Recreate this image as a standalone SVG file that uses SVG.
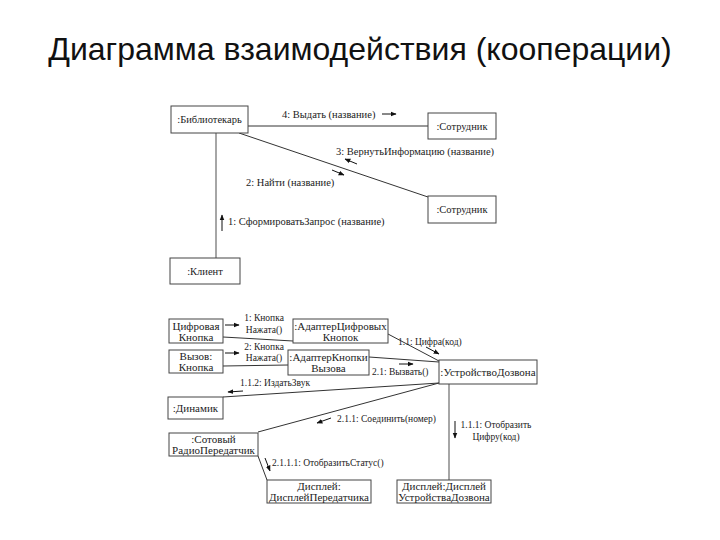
<svg xmlns="http://www.w3.org/2000/svg" width="720" height="540" viewBox="0 0 720 540">
<style>
.title{font-family:"Liberation Sans",Arial,sans-serif;font-size:32px;fill:#111;text-anchor:middle}
.box{fill:#fff;stroke:#444;stroke-width:1}
.nt{font-family:"Liberation Serif","Times New Roman",serif;font-size:10.5px;fill:#222;text-anchor:middle}
.nb{font-family:"Liberation Serif","Times New Roman",serif;font-size:11px;fill:#222;text-anchor:middle}
.lbl{font-family:"Liberation Serif","Times New Roman",serif;font-size:10.5px;fill:#222}
.lbs{font-family:"Liberation Serif","Times New Roman",serif;font-size:9.5px;fill:#222}
.c{text-anchor:middle}
.ln{stroke:#333;stroke-width:1;fill:none}
.lg{stroke:#888;stroke-width:1.5;fill:none}
.ar{stroke:#111;stroke-width:1;fill:none;marker-end:url(#ah)}
</style>
<defs>
<marker id="ah" viewBox="0 0 10 10" refX="9" refY="5" markerWidth="6" markerHeight="6" markerUnits="userSpaceOnUse" orient="auto">
<path d="M0,1 L10,5 L0,9 z" fill="#111"/>
</marker>
</defs>
<rect width="720" height="540" fill="#fff"/>
<text class="title" x="360" y="60">Диаграмма взаимодействия (кооперации)</text>

<g id="connectors">
<line class="ln" x1="248" y1="126" x2="428" y2="126"/>
<line class="ln" x1="239" y1="133" x2="428" y2="197"/>
<line class="lg" x1="216" y1="133" x2="216" y2="258"/>
<line class="ln" x1="223" y1="337" x2="293" y2="341"/>
<line class="ln" x1="223" y1="366" x2="288" y2="365"/>
<line class="ln" x1="388" y1="334" x2="439" y2="361"/>
<line class="ln" x1="369" y1="357" x2="439" y2="362"/>
<line class="ln" x1="223" y1="397" x2="439" y2="383"/>
<line class="ln" x1="258" y1="432" x2="439" y2="383"/>
<line class="lg" x1="449" y1="384" x2="449" y2="480"/>
<line class="ln" x1="258" y1="456" x2="267" y2="480"/>
</g>

<g id="labels">
<text class="lbl" x="282" y="118">4: Выдать (название)</text>
<line class="ar" x1="382" y1="114" x2="396" y2="114"/>
<text class="lbl" x="336" y="155">3: ВернутьИнформацию (название)</text>
<line class="ar" x1="357" y1="164" x2="345" y2="159"/>
<text class="lbl" x="246" y="186">2: Найти (название)</text>
<line class="ar" x1="332" y1="170" x2="344" y2="175"/>
<text class="lbl" x="228" y="225">1: СформироватьЗапрос (название)</text>
<line class="ar" x1="222" y1="231" x2="222" y2="215"/>

<text class="lbs c" x="264" y="321">1: Кнопка</text>
<text class="lbs c" x="264" y="333">Нажата()</text>
<line class="ar" x1="225" y1="325" x2="239" y2="325"/>
<text class="lbs c" x="264" y="350">2: Кнопка</text>
<text class="lbs c" x="264" y="361">Нажата()</text>
<line class="ar" x1="225" y1="353" x2="239" y2="353"/>
<text class="lbs" x="398" y="345">1.1: Цифра(код)</text>
<line class="ar" x1="426" y1="347" x2="439" y2="354"/>
<text class="lbs" x="372" y="375">2.1: Вызвать()</text>
<line class="ar" x1="399" y1="364" x2="413" y2="364"/>
<text class="lbs" x="240" y="386">1.1.2: ИздатьЗвук</text>
<line class="ar" x1="243" y1="391" x2="228" y2="392"/>
<text class="lbs" x="337" y="422">2.1.1: Соединить(номер)</text>
<line class="ar" x1="331" y1="418" x2="317" y2="423"/>
<text class="lbs c" x="496" y="428">1.1.1: Отобразить</text>
<text class="lbs c" x="496" y="440">Цифру(код)</text>
<line class="ar" x1="455" y1="421" x2="455" y2="438"/>
<text class="lbs" x="272" y="466">2.1.1.1: ОтобразитьСтатус()</text>
<line class="ar" x1="265" y1="458" x2="270" y2="471"/>
</g>

<g id="bibliotekar"><rect class="box" x="171" y="106" width="77" height="27"/><text class="nt" x="209.5" y="123">:Библиотекарь</text></g>
<g id="sotrudnik1"><rect class="box" x="428" y="113" width="68" height="26"/><text class="nt" x="462" y="130">:Сотрудник</text></g>
<g id="sotrudnik2"><rect class="box" x="428" y="196" width="68" height="27"/><text class="nt" x="462" y="213">:Сотрудник</text></g>
<g id="klient"><rect class="box" x="170" y="258" width="70" height="26"/><text class="nt" x="205" y="275">:Клиент</text></g>

<g id="cifrovaya"><rect class="box" x="169" y="319" width="54" height="24"/><text class="nb" x="196" y="329.5">Цифровая</text><text class="nb" x="196" y="340.5">Кнопка</text></g>
<g id="vyzov"><rect class="box" x="169" y="350" width="54" height="23"/><text class="nb" x="196" y="360">Вызов:</text><text class="nb" x="196" y="371">Кнопка</text></g>
<g id="adapter-cifr"><rect class="box" x="293" y="319" width="95" height="24"/><text class="nb" x="340.5" y="329.5">:АдаптерЦифровых</text><text class="nb" x="340.5" y="340.5">Кнопок</text></g>
<g id="adapter-knopki"><rect class="box" x="288" y="350" width="81" height="25"/><text class="nb" x="328.5" y="360.5">:АдаптерКнопки</text><text class="nb" x="328.5" y="372">Вызова</text></g>
<g id="ustroystvo"><rect class="box" x="439" y="360" width="98" height="24"/><text class="nb" x="488" y="376">:УстройствоДозвона</text></g>
<g id="dinamik"><rect class="box" x="168" y="397" width="55" height="22"/><text class="nb" x="195.5" y="412">:Динамик</text></g>
<g id="sotovy"><rect class="box" x="169" y="433" width="89" height="23"/><text class="nb" x="213.5" y="443">:Сотовый</text><text class="nb" x="213.5" y="454">РадиоПередатчик</text></g>
<g id="displey-per"><rect class="box" x="267" y="480" width="104" height="23"/><text class="nb" x="319" y="490">Дисплей:</text><text class="nb" x="319" y="501">ДисплейПередатчика</text></g>
<g id="displey-ustr"><rect class="box" x="397" y="480" width="94" height="23"/><text class="nb" x="444" y="490">Дисплей:Дисплей</text><text class="nb" x="444" y="501">УстройстваДозвона</text></g>
</svg>
